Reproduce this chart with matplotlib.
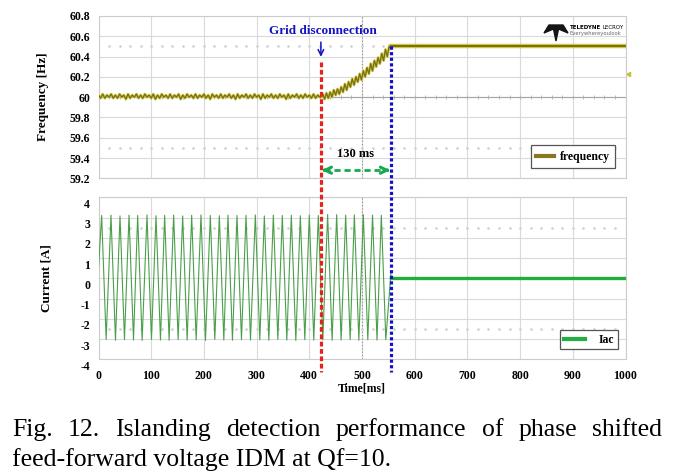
import matplotlib

matplotlib.use("Agg")
import matplotlib.pyplot as plt
import numpy as np
from matplotlib.patches import Polygon
from matplotlib.lines import Line2D
from matplotlib.transforms import ScaledTranslation, blended_transform_factory

plt.rcParams["axes.unicode_minus"] = False

# ---- data ----
# frequency before the disconnection, one sample every 4 ms from 0 ms
freq_pre = [
    60.02, 59.99, 60.03, 59.99, 60.02, 60.00, 60.03, 59.99, 60.02, 59.99,
    60.03, 60.00, 60.02, 59.98, 60.03, 59.99, 60.02, 60.00, 60.03, 59.99,
    60.02, 59.99, 60.03, 60.00, 60.02, 59.99, 60.03, 59.98, 60.02, 59.99,
    60.03, 60.00, 60.02, 59.99, 60.03, 59.99, 60.02, 60.00, 60.03, 59.98,
    60.02, 59.99, 60.03, 60.00, 60.02, 59.99, 60.03, 59.99, 60.02, 60.00,
    60.03, 59.99, 60.02, 59.98, 60.03, 60.00, 60.02, 59.99, 60.03, 59.99,
    60.02, 60.00, 60.03, 59.99, 60.02, 59.98, 60.03, 59.99, 60.02, 60.00,
    60.03, 59.99, 60.02, 59.99, 60.03, 60.00, 60.02, 59.98, 60.03, 59.99,
    60.02, 60.00, 60.03, 59.99, 60.02, 59.99, 60.03, 60.00, 60.02, 59.98,
    60.03, 59.99, 60.02, 60.00, 60.03, 59.99, 60.02, 59.99, 60.03, 60.00,
    60.02, 59.99, 60.03, 59.99, 60.02, 60.00,
]
freq_pre_step = 4.0
# frequency drift after the disconnection, one sample every 3.5 ms from 422 ms
freq_rise = [
    60.00, 60.03, 59.98, 60.04, 59.99, 60.05, 60.00, 60.07, 60.02, 60.08,
    60.03, 60.10, 60.05, 60.13, 60.07, 60.15, 60.10, 60.18, 60.12, 60.20,
    60.15, 60.23, 60.17, 60.26, 60.20, 60.29, 60.23, 60.33, 60.26, 60.36,
    60.30, 60.39, 60.33, 60.43, 60.36, 60.47, 60.40, 60.50, 60.48,
]
freq_rise_start = 422.0
freq_rise_step = 3.5
freq_post_t = [555.0, 1000.0]
freq_post = [60.50, 60.50]
trigger_level = 60.23

# inverter current: peaks and troughs of the waveform
cur_peak_t = [
    6.0, 23.7, 40.8, 57.9, 74.3, 92.0, 109.1, 125.5, 142.6, 159.7,
    176.8, 194.5, 212.2, 229.3, 245.7, 262.8, 279.9, 297.6, 314.7, 331.8,
    348.8, 365.9, 383.0, 400.0, 417.1, 434.8, 451.9, 469.0, 485.5, 502.5,
    520.0, 536.7,
]
cur_peak_v = [
    3.10, 3.12, 3.08, 3.12, 3.10, 3.13, 3.09, 3.11, 3.12, 3.08,
    3.11, 3.13, 3.10, 3.09, 3.12, 3.10, 3.11, 3.13, 3.08, 3.12,
    3.10, 3.11, 3.09, 3.12, 3.10, 3.15, 3.14, 3.12, 3.13, 3.15,
    3.12, 3.11,
]
cur_trough_t = [
    14.5, 32.2, 49.3, 66.4, 82.8, 100.5, 117.6, 134.0, 151.1, 168.2,
    185.3, 203.0, 220.7, 237.8, 254.2, 271.3, 288.4, 306.1, 323.2, 340.3,
    357.3, 374.4, 391.5, 408.5, 425.6, 443.3, 460.4, 477.5, 494.0, 511.0,
    528.5, 545.2,
]
cur_trough_v = [
    -3.02, -3.06, -3.03, -3.05, -3.07, -3.02, -3.05, -3.06, -3.03, -3.05,
    -3.04, -3.07, -3.02, -3.05, -3.06, -3.03, -3.05, -3.04, -3.06, -3.02,
    -3.05, -3.07, -3.03, -3.05, -3.04, -3.06, -3.05, -3.03, -3.06, -3.04,
    -3.05, -3.03,
]
cur_start = (0.0, 0.5)
cur_end = (555.0, 0.3)
cur_post_t = [555.0, 1000.0]
cur_post = [0.0, 0.0]

t_disconnect = 422.0
t_detect = 555.0

x_ticks = list(range(0, 1001, 100))
freq_ticks = [59.2, 59.4, 59.6, 59.8, 60.0, 60.2, 60.4, 60.6, 60.8]
freq_ticklabels = ["59.2", "59.4", "59.6", "59.8", "60", "60.2", "60.4", "60.6", "60.8"]
cur_ticks = [-4, -3, -2, -1, 0, 1, 2, 3, 4]

caption_1 = "Fig. 12. Islanding detection performance of phase shifted"
caption_2 = "feed-forward voltage IDM at Qf=10."

# ---- styling ----
W, H = 679, 476
SERIF = "Liberation Serif"
OLIVE = "#776d1c"
YELLOW = "#cfca3c"
GREEN = "#4a9f4a"
BRIGHT_GREEN = "#22ad3a"
RED = "#e5231d"
BLUE = "#1212c4"
ARROW_GREEN = "#18a850"
GRID = "#dadada"

fig = plt.figure(figsize=(W / 100, H / 100), dpi=100)
ax1 = fig.add_axes([98.5 / W, 1 - 178.3 / H, 527 / W, 162.3 / H])
ax2 = fig.add_axes([98.5 / W, 1 - 359.3 / H, 527 / W, 162.0 / H])

tick_font = dict(family=SERIF, weight="bold", size=8.5)

for ax in (ax1, ax2):
    ax.set_xlim(0, 1000)
    ax.set_xticks(x_ticks)
    ax.grid(True, color=GRID, lw=0.8)
    ax.set_axisbelow(True)
    ax.tick_params(length=0)
    for sp in ax.spines.values():
        sp.set_color("#cccccc")
        sp.set_linewidth(0.8)
    ax.axvline(500, color="#8c8c8c", lw=0.8, ls=(0, (1, 2)), zorder=1)

# scope graticule dots
dot_x = np.arange(20, 1000, 20)
for lvl in (59.5, 60.5):
    ax1.plot(dot_x, np.full(dot_x.size, lvl), ls="none", marker="s", ms=0.8,
             color="#d0d0d0", zorder=1)
for lvl in (-2.5, 2.5):
    ax2.plot(dot_x, np.full(dot_x.size, lvl), ls="none", marker="s", ms=0.8,
             color="#d0d0d0", zorder=1)
ax1.axhline(60.0, color="#a5a5a5", lw=0.8, zorder=1)
ax1.plot(dot_x, np.full(dot_x.size, 60.0), ls="none", marker="|", ms=3,
         mew=0.6, color="#b0b0b0", zorder=1)

# ---- frequency ----
t_pre = np.arange(len(freq_pre)) * freq_pre_step
t_rise = freq_rise_start + np.arange(len(freq_rise)) * freq_rise_step
ft = np.concatenate([t_pre, t_rise])
fv = np.concatenate([freq_pre, freq_rise])
ax1.plot(ft, fv, color=YELLOW, lw=2.0, zorder=3)
ax1.plot(ft, fv, color=OLIVE, lw=0.9, zorder=4)
ax1.plot(freq_post_t, freq_post, color=YELLOW, lw=3.2, zorder=3)
ax1.plot(freq_post_t, freq_post, color=OLIVE, lw=1.4, zorder=4)
ax1.plot([1004], [trigger_level], marker="<", ms=3, color="#c8c23a",
         clip_on=False, ls="none")

ax1.set_ylim(59.2, 60.8)
ax1.set_yticks(freq_ticks)
ax1.set_yticklabels(freq_ticklabels, **tick_font)
ax1.set_xticklabels([])
ax1.tick_params(axis="y", pad=6)
ax1.set_ylabel("Frequency [Hz]", family=SERIF, weight="bold", size=9.5)
ax1.yaxis.set_label_coords(-0.094, 0.5)

leg1 = ax1.legend(handles=[Line2D([], [], color="#8a7620", lw=3)], labels=["frequency"],
                  loc="lower right", bbox_to_anchor=(0.991, 0.027), frameon=True,
                  fancybox=False, edgecolor="#555555", framealpha=1,
                  prop=dict(family=SERIF, weight="bold", size=8.5),
                  handlelength=1.5, handletextpad=0.5, borderpad=0.45)
leg1.get_frame().set_linewidth(0.9)

# ---- current ----
ct = [cur_start[0]]
cv = [cur_start[1]]
for pt, pv, tt, tv in zip(cur_peak_t, cur_peak_v, cur_trough_t, cur_trough_v):
    ct += [pt, tt]
    cv += [pv, tv]
ct.append(cur_end[0])
cv.append(cur_end[1])
ax2.plot(ct, cv, color=GREEN, lw=0.8, zorder=3)
ax2.plot(cur_post_t, cur_post, color=BRIGHT_GREEN, lw=2.4, zorder=3)

ax2.set_ylim(-4, 4)
ax2.set_yticks(cur_ticks)
ax2.set_yticklabels([str(v) for v in cur_ticks], **tick_font)
ax2.set_xticklabels([str(v) for v in x_ticks], **tick_font)
ax2.tick_params(axis="y", pad=6)
ax2.tick_params(axis="x", pad=8)
shift = ScaledTranslation(0, -6 / 100, fig.dpi_scale_trans)
for lab in ax2.get_yticklabels():
    lab.set_transform(lab.get_transform() + shift)
ax2.set_ylabel("Current [A]", family=SERIF, weight="bold", size=9.5)
ax2.yaxis.set_label_coords(-0.088, 0.5)
ax2.set_xlabel("Time[ms]", family=SERIF, weight="bold", size=8.5, labelpad=0)

leg2 = ax2.legend(handles=[Line2D([], [], color="#20b040", lw=3)], labels=["Iac"],
                  loc="lower right", bbox_to_anchor=(0.986, 0.062), frameon=True,
                  fancybox=False, edgecolor="#555555", framealpha=1,
                  prop=dict(family=SERIF, weight="bold", size=8.5),
                  handlelength=1.8, handletextpad=1.2, borderpad=0.3,
                  borderaxespad=0)
leg2.get_frame().set_linewidth(0.9)

# ---- event markers running through both panels ----
xfig = blended_transform_factory(ax1.transData, fig.transFigure)
fig.add_artist(Line2D([t_disconnect, t_disconnect], [1 - 62 / H, 1 - 372 / H],
                      transform=xfig, color=RED, lw=2.3, ls=(0, (1.5, 0.8)),
                      zorder=10))
fig.add_artist(Line2D([t_detect, t_detect], [1 - 46 / H, 1 - 372 / H],
                      transform=xfig, color=BLUE, lw=2.3, ls=(0, (1.0, 0.75)),
                      zorder=10))

ax1.annotate("", xy=(t_disconnect, 60.37), xytext=(t_disconnect, 60.57),
             arrowprops=dict(arrowstyle="->", color=BLUE, lw=1.1, mutation_scale=10),
             annotation_clip=False)
ax1.text(t_disconnect + 4, 60.655, "Grid disconnection", color=BLUE, family=SERIF,
         weight="bold", size=9.5, ha="center", va="center")

y_span = 59.28
ax1.plot([t_disconnect + 6, t_detect - 6], [y_span, y_span], color=ARROW_GREEN,
         lw=2.0, ls=(0, (2.2, 1.4)), zorder=6)
for x0, x1 in ((t_disconnect + 8, t_disconnect + 2), (t_detect - 8, t_detect - 2)):
    ax1.annotate("", xy=(x1, y_span), xytext=(x0, y_span),
                 arrowprops=dict(arrowstyle="->", color=ARROW_GREEN, lw=2.2,
                                 mutation_scale=11, shrinkA=0, shrinkB=0))
ax1.text((t_disconnect + t_detect) / 2, 59.44, "130 ms", family=SERIF,
         weight="bold", size=9, ha="center", va="center")

# ---- scope logo ----
logo = [(544, 33), (549, 25), (563, 25), (568, 33), (558.5, 29), (556, 41), (553.5, 29)]
fig.add_artist(Polygon([(x / W, 1 - y / H) for x, y in logo], closed=True,
                       color="#151515", transform=fig.transFigure))
renderer = fig.canvas.get_renderer()
t_brand = fig.text(570 / W, 1 - 29 / H, "TELEDYNE", family="DejaVu Sans",
                   weight="bold", size=4.0, va="baseline", ha="left")
bw = t_brand.get_window_extent(renderer).width
fig.text((570 + bw + 1.5) / W, 1 - 29 / H, "LECROY", family="DejaVu Sans", size=4.0,
         va="baseline", ha="left")
fig.text(570 / W, 1 - 35 / H, "Everywhereyoulook", family="DejaVu Sans", size=3.8,
         color="#666666", va="baseline", ha="left")

# ---- caption, first line justified ----
cap_font = dict(family=SERIF, size=18.5, va="baseline", ha="left")
words = caption_1.split()
wt = [fig.text(0, 1 - 436 / H, w, **cap_font) for w in words]
widths = [t.get_window_extent(renderer).width for t in wt]
left_px, right_px = 12.0, 662.0
gap = (right_px - left_px - sum(widths)) / (len(words) - 1)
xpos = left_px
for t, w in zip(wt, widths):
    t.set_x(xpos / W)
    xpos += w + gap
fig.text(left_px / W, 1 - 466 / H, caption_2, **cap_font)

fig.savefig("out.png", dpi=100, facecolor="white")
